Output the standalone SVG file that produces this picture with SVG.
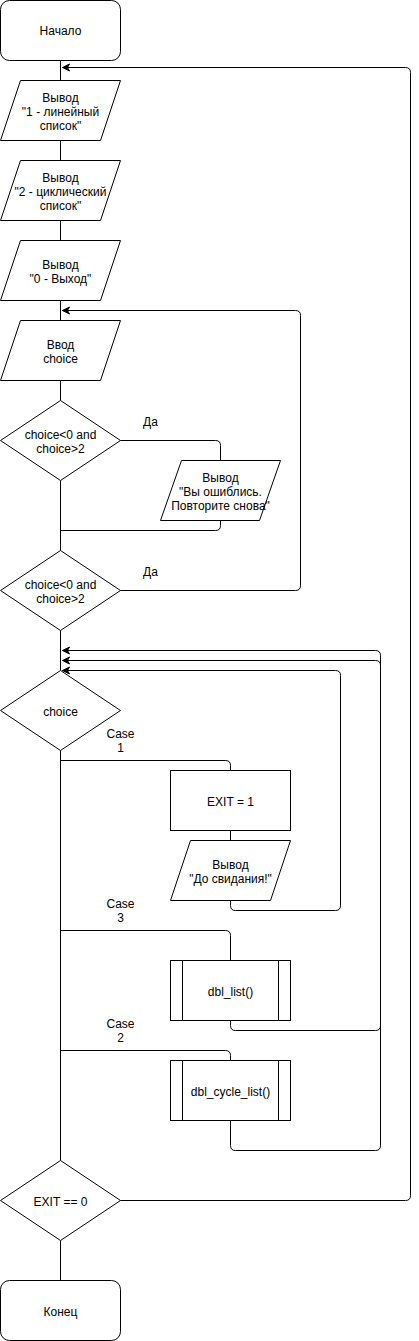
<svg xmlns="http://www.w3.org/2000/svg" width="419" height="1341" viewBox="0 0 419 1341">
<style>
.s{fill:#fff;stroke:#000;stroke-width:1}
.c{fill:none;stroke:#000;stroke-width:1}
text{font-family:"Liberation Sans",Arial,sans-serif;font-size:12px;fill:#000;text-anchor:middle;dominant-baseline:central}
</style>
<defs>
<marker id="a" markerWidth="10" markerHeight="10" refX="7" refY="4" orient="auto" markerUnits="userSpaceOnUse">
<path d="M0,0.5 L7,4 L0,7.5 L2,4 z" fill="#000" stroke="#000" stroke-width="1"/>
</marker>
</defs>
<rect width="419" height="1341" fill="#fff"/>
<g transform="translate(0.5,0.5)">
<g id="connectors">
<path class="c" d="M60,60 V80"/>
<path class="c" d="M60,140 V160"/>
<path class="c" d="M60,220 V240"/>
<path class="c" d="M60,300 V320"/>
<path class="c" d="M60,380 V400"/>
<path class="c" d="M60,480 V550"/>
<path class="c" d="M120,440 H215 Q220,440 220,445 V460"/>
<path class="c" d="M220,520 V525 Q220,530 215,530 H60"/>
<path class="c" d="M120,590 H295 Q300,590 300,585 V315 Q300,310 295,310 H62" marker-end="url(#a)"/>
<path class="c" d="M60,630 V670"/>
<path class="c" d="M60,750 V1160"/>
<path class="c" d="M60,760 H225 Q230,760 230,765 V770"/>
<path class="c" d="M230,830 V840"/>
<path class="c" d="M230,900 V905 Q230,910 235,910 H335 Q340,910 340,905 V675 Q340,670 335,670 H62" marker-end="url(#a)"/>
<path class="c" d="M60,930 H225 Q230,930 230,935 V960"/>
<path class="c" d="M230,1020 V1025 Q230,1030 235,1030 H375 Q380,1030 380,1025 V665 Q380,660 375,660 H62" marker-end="url(#a)"/>
<path class="c" d="M60,1050 H225 Q230,1050 230,1055 V1060"/>
<path class="c" d="M230,1120 V1145 Q230,1150 235,1150 H375 Q380,1150 380,1145 V655 Q380,650 375,650 H62" marker-end="url(#a)"/>
<path class="c" d="M120,1200 H405 Q410,1200 410,1195 V72 Q410,67 405,67 H62" marker-end="url(#a)"/>
<path class="c" d="M60,1240 V1280"/>
<text x="150" y="421">Да</text>
<text x="150" y="571">Да</text>
<text x="120" y="733">Case</text>
<text x="120" y="747">1</text>
<text x="120" y="903">Case</text>
<text x="120" y="917">3</text>
<text x="120" y="1023">Case</text>
<text x="120" y="1037">2</text>
</g>
<g id="start"><rect class="s" x="0" y="0" width="120" height="60" rx="9"/><text x="60" y="30">Начало</text></g>
<g id="out1"><path class="s" d="M20,80 H120 L100,140 H0 Z"/><text x="60" y="97">Вывод</text><text x="60" y="111">"1 - линейный</text><text x="60" y="125">список"</text></g>
<g id="out2"><path class="s" d="M20,160 H120 L100,220 H0 Z"/><text x="60" y="177">Вывод</text><text x="60" y="191">"2 - циклический</text><text x="60" y="205">список"</text></g>
<g id="out3"><path class="s" d="M20,240 H120 L100,300 H0 Z"/><text x="60" y="264">Вывод</text><text x="60" y="278">"0 - Выход"</text></g>
<g id="input"><path class="s" d="M20,320 H120 L100,380 H0 Z"/><text x="60" y="344">Ввод</text><text x="60" y="358">choice</text></g>
<g id="cond1"><path class="s" d="M60,400 L120,440 L60,480 L0,440 Z"/><text x="60" y="434">choice&lt;0 and</text><text x="60" y="448">choice&gt;2</text></g>
<g id="err"><path class="s" d="M181,460 H280 L259,520 H160 Z"/><text x="220" y="477">Вывод</text><text x="220" y="491">"Вы ошиблись.</text><text x="220" y="505">Повторите снова"</text></g>
<g id="cond2"><path class="s" d="M60,550 L120,590 L60,630 L0,590 Z"/><text x="60" y="584">choice&lt;0 and</text><text x="60" y="598">choice&gt;2</text></g>
<g id="switch"><path class="s" d="M60,670 L120,710 L60,750 L0,710 Z"/><text x="60" y="711">choice</text></g>
<g id="exit1"><rect class="s" x="170" y="770" width="120" height="60"/><text x="230" y="801">EXIT = 1</text></g>
<g id="bye"><path class="s" d="M190,840 H290 L270,900 H170 Z"/><text x="230" y="864">Вывод</text><text x="230" y="878">"До свидания!"</text></g>
<g id="dbl"><rect class="s" x="170" y="960" width="120" height="60"/><path class="c" d="M182,960 V1020 M278,960 V1020"/><text x="230" y="991">dbl_list()</text></g>
<g id="dblc"><rect class="s" x="170" y="1060" width="120" height="60"/><path class="c" d="M182,1060 V1120 M278,1060 V1120"/><text x="230" y="1091">dbl_cycle_list()</text></g>
<g id="cond3"><path class="s" d="M60,1160 L120,1200 L60,1240 L0,1200 Z"/><text x="60" y="1201">EXIT == 0</text></g>
<g id="end"><rect class="s" x="0" y="1280" width="120" height="60" rx="9"/><text x="60" y="1311">Конец</text></g>
</g>
</svg>
